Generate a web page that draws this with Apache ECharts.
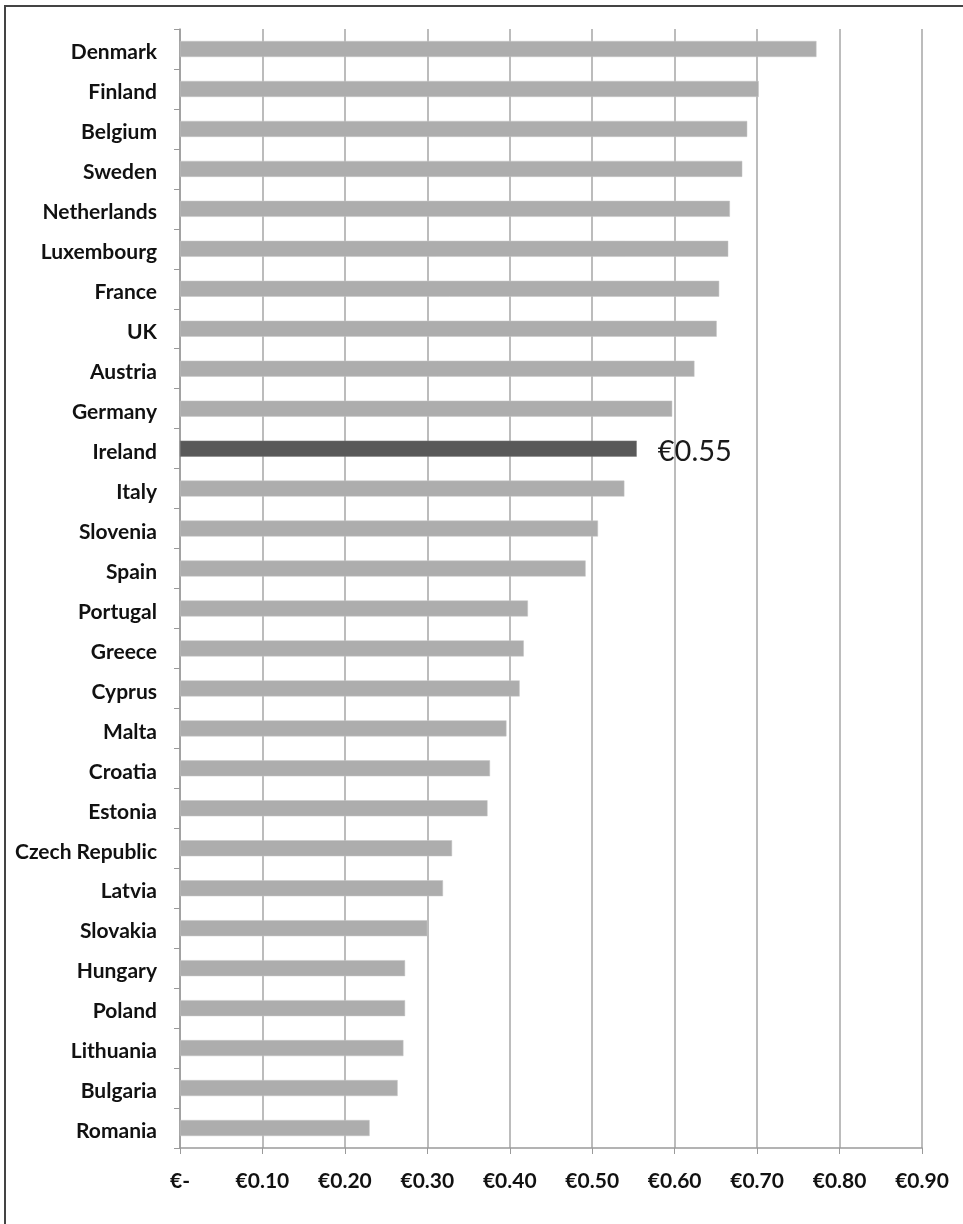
<!DOCTYPE html>
<html>
<head>
<meta charset="utf-8">
<script src="https://cdn.jsdelivr.net/npm/echarts@6/dist/echarts.min.js"></script>
<style>
html,body{margin:0;padding:0;background:#fff;}
#chart{width:963px;height:1224px;}
</style>
</head>
<body>
<div id="chart"></div>
<script>
var countries = ['Denmark','Finland','Belgium','Sweden','Netherlands','Luxembourg','France','UK','Austria','Germany','Ireland','Italy','Slovenia','Spain','Portugal','Greece','Cyprus','Malta','Croatia','Estonia','Czech Republic','Latvia','Slovakia','Hungary','Poland','Lithuania','Bulgaria','Romania'];
var values = [0.772,0.702,0.688,0.682,0.667,0.665,0.654,0.651,0.624,0.597,0.554,0.539,0.507,0.492,0.422,0.417,0.412,0.396,0.376,0.373,0.330,0.319,0.300,0.273,0.273,0.271,0.264,0.230];
var highlighted = 'Ireland';
var xTickLabels = ['€-','€0.10','€0.20','€0.30','€0.40','€0.50','€0.60','€0.70','€0.80','€0.90'];

var FONT = 'Lato, "Open Sans", "DejaVu Sans", sans-serif';
var chart = echarts.init(document.getElementById('chart'), null, {renderer:'canvas'});

var data = countries.map(function(c, i){
  if (c === highlighted) {
    return {
      value: values[i],
      itemStyle: {color:'#595959', borderColor:'#7a7a7a', borderWidth:0.5},
      label: {
        show: true, position: 'right', distance: 21, offset: [0, 3],
        fontFamily: FONT, fontSize: 29, fontWeight: 'normal', color: '#1a1a1a',
        formatter: function(p){ return '€' + p.value.toFixed(2); }
      }
    };
  }
  return values[i];
});

chart.setOption({
  animation: false,
  backgroundColor: '#ffffff',
  graphic: [{
    type: 'rect', z: 100, silent: true,
    shape: {x: 5, y: 6, width: 980, height: 1240},
    style: {fill: 'none', stroke: '#444444', lineWidth: 2}
  }],
  grid: {left: 180, right: 41, top: 29, bottom: 76, containLabel: false},
  xAxis: {
    type: 'value', min: 0, max: 0.9, interval: 0.1,
    axisLine: {show: true, lineStyle: {color: '#9a9a9a', width: 1.5}},
    axisTick: {show: true, length: 6, lineStyle: {color: '#9a9a9a'}},
    splitLine: {show: true, lineStyle: {color: '#a6a6a6', width: 1.5}},
    axisLabel: {
      margin: 23, fontFamily: FONT, fontSize: 21, fontWeight: 'bold', color: '#111',
      formatter: function(v){ return xTickLabels[Math.round(v * 10)]; }
    }
  },
  yAxis: {
    type: 'category', data: countries, inverse: true,
    axisLine: {show: true, lineStyle: {color: '#9a9a9a', width: 1.5}},
    axisTick: {show: true, length: 6, lineStyle: {color: '#9a9a9a'}},
    splitLine: {show: false},
    axisLabel: {
      margin: 23, color: '#111',
      formatter: function(v){ return '{a|' + v + '}'; },
      rich: {a: {fontFamily: FONT, fontSize: 21, fontWeight: 'bold', color: '#111', padding: [7, 0, 0, 0]}}
    }
  },
  series: [{
    type: 'bar', data: data, barWidth: 16,
    itemStyle: {color: '#adadad', borderColor: '#c4c4c4', borderWidth: 0.5},
    label: {show: false}
  }]
});
</script>
</body>
</html>
